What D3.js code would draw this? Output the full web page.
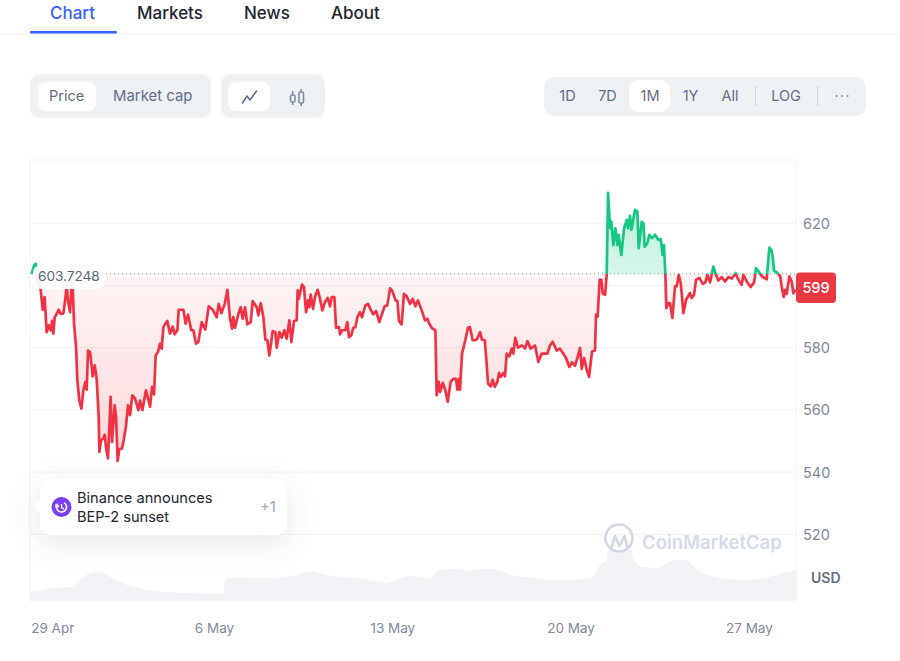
<!DOCTYPE html>
<html><head><meta charset="utf-8">
<script src="https://cdn.jsdelivr.net/npm/d3@7/dist/d3.min.js"></script>
<style>html,body{margin:0;padding:0;background:#fff;overflow:hidden}svg{display:block;font-family:Inter,"Noto Sans",sans-serif}</style>
</head><body><svg id="c" width="900" height="661"></svg>
<script>
const priceHours=[-3.8,-1.6,0,1.5,3.4,4.7,6.6,8.4,10.3,12.2,14.1,15.4,16.6,17.9,19.8,21.6,23.5,26,27.9,29.2,30.4,32.3,33.9,34.8,36.1,38,39.2,41.1,43,44.9,46.8,48,49.3,51.2,53.7,55.6,57.4,59.3,60,61.5,63.7,65,66.2,68.1,70.6,71.9,74.4,75.7,77.2,78.8,81.3,83.2,85.1,87,88.9,91,93.6,96.7,98.3,100.5,103.9,107.7,109.6,111.5,113,115.2,117.1,118.7,120.3,122.5,124,126.5,129.1,130.9,133.5,134.7,139.1,141.3,143.5,146.6,148.5,151,153.2,156.4,159.8,163,166.8,170.5,172.4,174.9,178.1,180.6,183.1,185,186.2,187.8,191,193.1,195,197.2,199.4,202.6,204.4,208.2,209.8,212,214.5,216.4,218.3,220.1,223.3,225.8,227.1,229.6,231.8,234.3,236.5,239,240.9,243.4,245.9,246.8,
247.8,250.9,252.8,254.7,256.6,257.8,259.1,261.3,263.5,265.7,267.9,270.1,272.6,275.1,277.3,278.9,281.4,283,285.8,286.7,288.6,291.8,293.6,295.2,297.4,299.3,301.2,303.1,305.6,307.5,310.6,313.1,315.6,318.1,320.7,323.8,326.3,328.8,331.3,333.9,336,339.2,340.8,342.3,344.8,347,349.6,352.7,355.2,357.7,360.2,363.7,366.8,369,370.6,373.1,376.6,377.8,379.7,381,383.5,386,388.2,391,393.5,396,397.3,398.9,399.8,401.7,404.8,407.3,409.2,411.7,414.3,416.1,418.7,420.5,423.1,424.9,426.2,428.7,430.6,432.5,435,436.6,438.1,440.6,442.2,443.8,446.3,448.5,450.1,451.9,454.5,458.2,461.1,463.3,466.4,470.5,473.6,476.8,482.1,484.6,487.1,490.9,494,
499.7,502.8,505.4,508.2,510.4,512.9,514.5,516.7,519.2,521.4,524.2,527,528,529.5,531.4,533,534.3,536.5,538,539.3,541.2,542.4,544.3,546.2,548.1,549.3,551.8,554.4,556.9,558.1,560,561.3,564.7,566.9,568.2,571,572.6,573.8,576.3,578.2,580.7,583.6,586.7,588.9,590.8,592,593.3,594.2,596.1,597.7,599.9,602.4,604,605.9,607.8,610.3,612.8,616.5,618.1,620.3,622.2,625.3,628.5,631,632.9,635.4,638.5,640.4,643.2,646.4,649.5,652.7,655.8,659.6,661.8,665.2,666.8,670,673.7,676.9,678.7,681.3,684.4,688.8,691.3,693.2,694.4,695.7,698.2,701.4,702.9,704.8,706.1,707.6,710.2,712.3,713.9,716.1];
const prices=[603.7,606.4,607,601.6,600.5,598.6,592.2,596.3,585,587.2,585.6,588.6,584.5,589.8,590.9,592.2,590.9,591,595.7,600,595.2,591.4,600.5,600,587.7,580.2,569.5,563,560.4,566.3,569,566.5,579.1,578.6,570.8,574.3,570,557.8,546.5,550.3,550.8,552,548,544.4,564.2,549.7,561.5,557.8,543.6,547.4,547.6,550.8,555,561.5,558.3,564.7,563.6,559.9,563,559.9,566.3,561,567.4,565,577.5,578.6,581.3,579.7,586.6,587.9,588.6,584.5,586.8,584.3,585.6,592.2,592.2,587.7,590.6,585.6,585.6,581.3,581.8,588.2,585.8,593.3,592.2,589.8,594.1,591.1,594.1,598.6,589.3,586.1,589.8,586.4,590.9,593,589.3,593,587.5,588.2,595,593,590.4,594.3,589.8,582.6,582.4,577.5,585.3,585,580,585,583.2,585.6,582.9,588.8,581.8,588.6,588.8,598.4,
595.7,600.3,599.5,591.4,595.2,593,597.1,592.5,596.8,598.6,595.7,592,594.7,596,593.3,596.3,596.3,586.4,586.6,584.3,585.6,585.6,588.2,583.4,584,586.4,586.6,589.8,591.4,589.8,593.6,594.1,592.2,590.7,591.8,588.2,590.9,593.3,593.6,599.1,598.2,595.2,595,588.6,587.5,597.3,596.5,594.1,595.7,593.3,595.2,592,588.8,589.3,587.9,586.4,585.6,564.7,569,565.8,568.7,566.3,562.6,569,570,570,566.5,570,566.5,578.1,582.4,586.4,586.6,582.4,582.4,582.9,585,582.6,582.4,574.9,568.4,567.6,569.7,567.4,569,571.9,570.6,571.9,570.8,578.1,577.2,579.7,578.1,583.2,580,580.7,579.7,582.1,579.7,580.7,575.4,578.1,578.1,580.7,581.9,579.1,579.7,
576.7,573.8,575.3,574.2,576.7,579.9,573.2,576.7,572.9,570.6,578.8,579.1,590.6,590,601.8,601.8,597.5,597,603.4,629.8,618.4,620.5,613,618.4,613,616.3,609.8,618.4,621.1,618.4,622.4,617.9,624.3,623.8,612,620.5,620,612.5,613.6,616.3,615.2,616.3,614.7,614.9,609.8,613,603.7,592.7,594.3,594.3,589.5,599.7,599.7,603.4,600.7,591.1,595.4,597.5,596,597,601.8,602.4,600.5,601,603.4,601,606.1,604,601.6,602.7,601.3,602.7,602.2,604,602,600.2,603.4,601.3,599.5,601,605.6,604.5,602.9,602,612.2,611.4,609.3,604.8,604.2,603.1,599.7,596.3,598.6,597.3,602.9,601.3,597.5,598.6];
const volumeHours=[-5.4,7.2,10.3,35.5,40.2,44.9,52.7,60.6,68.4,79.4,85.7,93.6,101.4,117.1,136,148.5,176.8,178.4,186.2,205,223.9,239.6,255.3,261.6,274.2,283.6,305.6,318.1,330.7,343.3,352.7,368.4,371.6,377.9,387.3,399.9,406.2,418.7,432.9,443.8,456.4,465.8,478.4,506.7,522.4,527.1,531.8,538.1,538.7,561.6,563.2,569.5,588.3,594.6,600.9,613.5,621.3,627.6,641.7,660.6,673.1,688.8,701.4,716.5];
const volumes=[.93,1.1,1.27,1.43,1.93,2.5,2.83,3,2.5,1.93,1.6,1.43,1.17,.93,.83,.77,.7,2.1,2.37,2.27,2.27,2.43,2.93,3,2.6,2.37,2.27,2,1.77,2.27,2.5,2.27,2.17,3,3.17,3.23,3,3.23,3.17,2.77,2.4,2.37,2.1,2.1,2.33,2.67,3.67,4,5.1,5.1,4.17,3.43,3.27,3.77,4.1,4.1,3.33,2.83,2.33,2.1,2.1,2.33,2.73,3.07];
const yTicks=[620,600,580,560,540,520];
const yTickLabels=["620","","580","560","540","520"];
const xTickDays=[0,7,14,21,28];
const xTickLabels=["29 Apr","6 May","13 May","20 May","27 May"];
const basePrice=603.7248;
const lastPrice="599";
const tabs=["Chart","Markets","News","About"];
const ranges=["1D","7D","1M","1Y","All","LOG"];

const svg=d3.select("#c");
const t0=Date.UTC(2024,3,29);
const hourDate=h=>new Date(t0+h*36e5);
const L=30,R=796,T=160,B=601;
const x=d3.scaleUtc().domain([hourDate(-5.4),hourDate(716.4)]).range([L,R]);
const y=d3.scaleLinear().domain([498.55,640.35]).range([B,T]);
const yV=d3.scaleLinear().domain([0,5]).range([B,551]);
const pts=priceHours.map((h,i)=>({d:hourDate(h),p:prices[i]}));
const vols=volumeHours.map((h,i)=>({d:hourDate(h),v:volumes[i]}));
const by=y(basePrice);

const defs=svg.append("defs");
function grad(id,y1,y2,c,a1,a2){const g=defs.append("linearGradient").attr("id",id).attr("gradientUnits","userSpaceOnUse").attr("x1",0).attr("x2",0).attr("y1",y1).attr("y2",y2);
 g.append("stop").attr("offset",0).attr("stop-color",c).attr("stop-opacity",a1);
 g.append("stop").attr("offset",1).attr("stop-color",c).attr("stop-opacity",a2);}
grad("gr",by,y(543),"#ea3943",.05,.2);
grad("gg",y(630),by,"#16c784",.28,.18);
defs.append("clipPath").attr("id","above").append("rect").attr("x",L).attr("y",T).attr("width",R-L).attr("height",by-T);
defs.append("clipPath").attr("id","below").append("rect").attr("x",L).attr("y",by).attr("width",R-L).attr("height",B-by);
const sh=defs.append("filter").attr("id","sh").attr("x","-20%").attr("y","-50%").attr("width","140%").attr("height","220%");
sh.append("feDropShadow").attr("dx",0).attr("dy",8).attr("stdDeviation",14).attr("flood-color","#58667e").attr("flood-opacity",.14);

/* header */
const tabX=[50,137,244,331];
svg.selectAll(".tab").data(tabs).join("text").attr("x",(d,i)=>tabX[i]).attr("y",19).attr("font-size",17).attr("font-weight",500).attr("fill",(d,i)=>i?"#222531":"#3861fb").text(d=>d);
svg.append("rect").attr("x",0).attr("y",33.5).attr("width",900).attr("height",1).attr("fill","#eff2f5");
svg.append("rect").attr("x",30).attr("y",31).attr("width",87).attr("height",2.5).attr("rx",1).attr("fill","#3861fb");
const box=(a,b,w,h,r,f)=>svg.append("rect").attr("x",a).attr("y",b).attr("width",w).attr("height",h).attr("rx",r).attr("fill",f);
const lab=(t,a,b,o={})=>svg.append("text").attr("x",a).attr("y",b).attr("font-size",o.s||14.5).attr("font-weight",o.w||400).attr("fill",o.f||"#616e85").attr("text-anchor",o.a||"start").text(t);
box(30,74,181,44,10,"#eff2f5");box(38,82,58,29,8,"#fff");
lab("Price",49,101);lab("Market cap",113,101,{s:14.9});
box(221,74,104,44,10,"#eff2f5");box(228,82,42,29,8,"#fff");
svg.append("path").attr("d","M242.5 103 L247 96 L250 100 L256.5 91").attr("fill","none").attr("stroke","#616e85").attr("stroke-width",1.5).attr("stroke-linecap","round").attr("stroke-linejoin","round");
const ic=svg.append("g").attr("fill","none").attr("stroke","#808a9d").attr("stroke-width",1.6);
ic.append("rect").attr("x",290.5).attr("y",95).attr("width",4.5).attr("height",7).attr("rx",1.5);
ic.append("rect").attr("x",299).attr("y",92).attr("width",4.5).attr("height",11).attr("rx",1.5);
ic.append("path").attr("d","M292.7 91V95M292.7 102V105M301.2 89V92M301.2 103V106");
box(544,77,322,39,10,"#eff2f5");box(629,80,41,32,9,"#fff");
const rangeX=[567.5,607.5,650,690.5,730,786];
ranges.forEach((t,i)=>lab(t,rangeX[i],101,{a:"middle"}));
[755.5,817.5].forEach(a=>svg.append("line").attr("x1",a).attr("x2",a).attr("y1",86).attr("y2",106).attr("stroke","#cfd6e4"));
[836.5,842,847.5].forEach(a=>svg.append("circle").attr("cx",a).attr("cy",96).attr("r",1).attr("fill","#808a9d"));

/* frame + grid */
const grid=svg.append("g");
grid.selectAll("line").data(yTicks).join("line").attr("x1",L).attr("x2",R).attr("y1",d=>y(d)).attr("y2",d=>y(d)).attr("stroke","#eff2f5").attr("stroke-width",1);
svg.append("path").attr("d",`M${L} ${B}V${T}H${R}V${B}`).attr("fill","none").attr("stroke","#eff2f5");

/* volume */
svg.append("path").datum(vols).attr("fill","#f1f3f6").attr("d",d3.area().x(d=>x(d.d)).y0(B).y1(d=>yV(d.v)));

/* areas */
const area=d3.area().x(d=>x(d.d)).y0(by).y1(d=>y(d.p));
svg.append("path").datum(pts).attr("clip-path","url(#below)").attr("fill","url(#gr)").attr("d",area);
svg.append("path").datum(pts).attr("clip-path","url(#above)").attr("fill","url(#gg)").attr("d",area);
/* baseline */
svg.append("line").attr("x1",L).attr("x2",R).attr("y1",by).attr("y2",by).attr("stroke","#808a9d").attr("stroke-dasharray","1 3").attr("stroke-width",1);
/* lines */
const line=d3.line().x(d=>x(d.d)).y(d=>y(d.p));
svg.append("path").datum(pts).attr("clip-path","url(#below)").attr("fill","none").attr("stroke","#ef3344").attr("stroke-width",2.7).attr("stroke-linejoin","round").attr("d",line);
svg.append("path").datum(pts).attr("clip-path","url(#above)").attr("fill","none").attr("stroke","#16c784").attr("stroke-width",2.7).attr("stroke-linejoin","round").attr("d",line);

/* base label */
box(33,265,72,24,8,"#fff").attr("fill-opacity",.92);
lab(d3.format(".4f")(basePrice),38,280.5,{s:13.6,f:"#58667e"});

/* y axis */
const yAxis=d3.axisRight(y).tickValues(yTicks).tickSize(0).tickPadding(7).tickFormat((d,i)=>yTickLabels[i]);
const gy=svg.append("g").attr("transform",`translate(${R},0)`).call(yAxis);
gy.select(".domain").remove();
gy.selectAll("text").attr("font-size",14.5).attr("fill","#808a9d").attr("font-family","Inter").attr("dy",".35em");
svg.append("rect").attr("x",796).attr("y",y(599)-16).attr("width",40).attr("height",30.5).attr("rx",4).attr("fill","#ea3943");
lab(lastPrice,816,y(599)+4.5,{s:14.5,f:"#fff",a:"middle",w:500});
lab("USD",811,583,{s:14,w:600,f:"#616e85"});

/* x axis */
const xAxis=d3.axisBottom(x).tickValues(xTickDays.map(d=>hourDate(d*24))).tickSize(0).tickPadding(0).tickFormat((d,i)=>xTickLabels[i]);
const gx=svg.append("g").attr("transform","translate(0,633)").call(xAxis);
gx.select(".domain").remove();
gx.selectAll("text").attr("font-size",13.5).attr("fill","#808a9d").attr("font-family","Inter").attr("y",0).attr("dy",0).attr("dx",(d,i)=>i?0:16.5);

/* watermark */
const wm=svg.append("g");
wm.append("path").attr("d","M630.5 545 A13.5 13.5 0 1 1 632 541.5").attr("fill","none").attr("stroke","#d2d9e6").attr("stroke-width",2.6).attr("stroke-linecap","round");
wm.append("path").attr("d","M611 549 L615 536 L619.5 546 L624.5 536 L627 546 Q630 549 632 541").attr("fill","none").attr("stroke","#d2d9e6").attr("stroke-width",2.6).attr("stroke-linejoin","round").attr("stroke-linecap","round");
lab("CoinMarketCap",642,549,{s:18.5,w:600,f:"#d5dce9"});

/* event tooltip */
const tip=svg.append("g");
tip.append("path").attr("filter","url(#sh)").attr("fill","#fff").attr("d","M50 479H277a10 10 0 0 1 10 10V525a10 10 0 0 1 -10 10H50a10 10 0 0 1 -10 -10V514L33 507L40 500V489a10 10 0 0 1 10 -10Z");
tip.append("circle").attr("cx",61.5).attr("cy",507).attr("r",10).attr("fill","#7b3ff2");
tip.append("circle").attr("cx",61.5).attr("cy",507).attr("r",5).attr("fill","none").attr("stroke","#fff").attr("stroke-width",1.6).attr("stroke-dasharray","24 8").attr("transform","rotate(-60 61.5 507)");
tip.append("path").attr("d","M61.5 504V507.5L64 509M55.5 504.5L56.5 507.5L59 505.8").attr("fill","none").attr("stroke","#fff").attr("stroke-width",1.4);
lab("Binance announces",77,503,{s:14.6,f:"#222531"});
lab("BEP-2 sunset",77,522,{s:14.6,f:"#222531"});
lab("+1",260,512,{s:14.5,f:"#a6b0c3",w:500});
</script></body></html>
